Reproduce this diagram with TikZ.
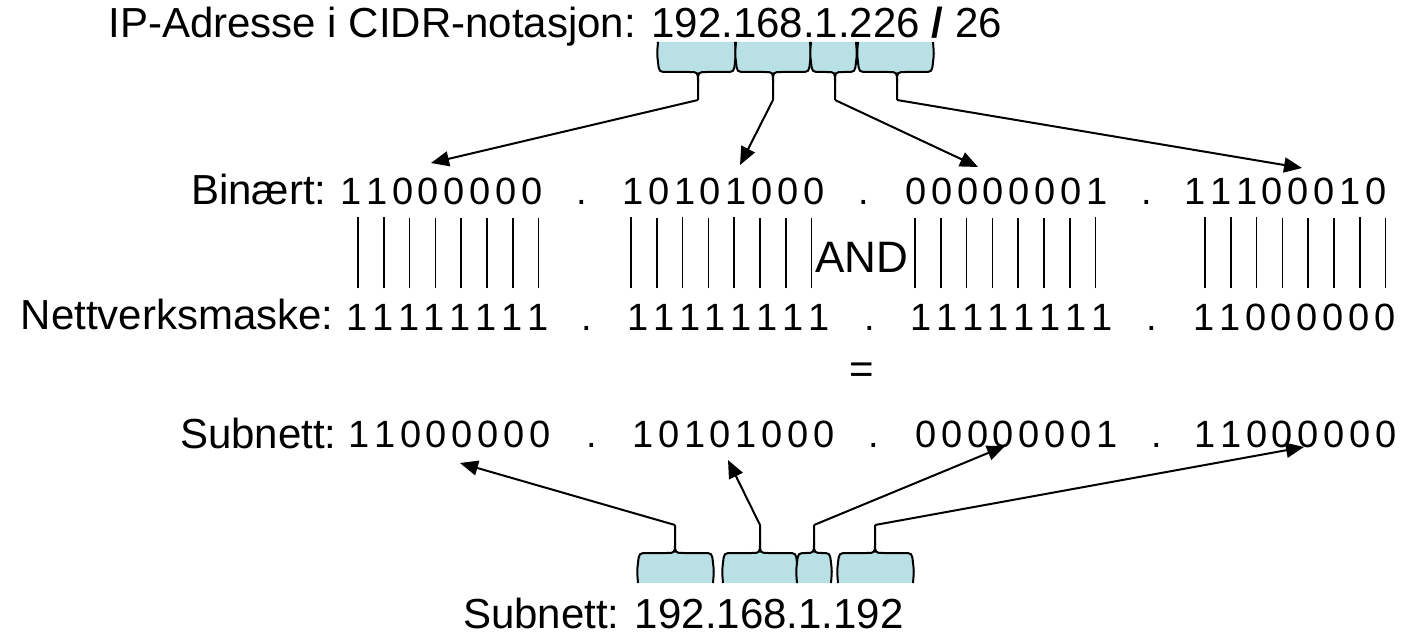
\documentclass[tikz,border=0pt]{standalone}
\usepackage{fontspec}
\setmainfont{Liberation Sans}
\usetikzlibrary{arrows.meta}
\definecolor{brblue}{HTML}{B9E0E4}
\tikzstyle{l1}=[line width=1pt]
\tikzstyle{bar}=[line width=0.8pt, shorten <=7.5pt, shorten >=6pt]
\tikzstyle{digit}=[inner sep=0pt, anchor=base, font=\fontsize{19}{23}\selectfont]
\tikzstyle{lbl}=[inner sep=0pt, font=\fontsize{21}{25}\selectfont]
\tikzstyle{pil}=[l1, -{Triangle[length=9pt,width=7.5pt]}]
% brace: left x, stem x, right x, name of stem tip
\newcommand{\ipbrace}[4]{%
  \fill[brblue] (#1,0) .. controls (#1-1,12) .. (#1,20) .. controls (#1+1,30) .. (#1+10,30) -- (#3-10,30) .. controls (#3-1,30) .. (#3,20) .. controls (#3+1,12) .. (#3,0) -- cycle;
  \draw[l1] (#1,0) .. controls (#1-1,12) .. (#1,20) .. controls (#1+1,30) .. (#1+10,30) -- (#2-9,30) .. controls (#2,30) .. (#2,40) -- (#2,58) coordinate (#4);
  \draw[l1] (#3,0) .. controls (#3+1,12) .. (#3,20) .. controls (#3-1,30) .. (#3-10,30) -- (#2+9,30) .. controls (#2,30) .. (#2,40);
}
\begin{document}
\begin{tikzpicture}[x=0.5pt, y=-0.5pt]
    \useasboundingbox (0,0) rectangle (1402,636);

    \node[lbl, anchor=base west] (title) at (108,38) {IP-Adresse i CIDR-notasjon: 192.168.1.226 \textbf{/} 26};
    \node[lbl, anchor=base east] (lbin) at (327,205) {Binært:};
    \node[lbl, anchor=base east] (lmask) at (334,329) {Nettverksmaske:};
    \node[lbl, anchor=base east] (lsub) at (337,448) {Subnett:};
    \node[lbl, anchor=base east] (res) at (904,628) {Subnett: 192.168.1.192};

    % the three rows of bits
    \foreach \g/\s/\bits in {1/351/{1,1,0,0,0,0,0,0}, 2/633/{1,0,1,0,1,0,0,0}, 3/916/{0,0,0,0,0,0,0,1}, 4/1195/{1,1,1,0,0,0,1,0}}
        \foreach \d [count=\i] in \bits
            \node[digit] (b-\g-\i) at ({\s+(\i-1)*25.8},205) {\d};
    \foreach \g/\s/\bits in {1/357/{1,1,1,1,1,1,1,1}, 2/638/{1,1,1,1,1,1,1,1}, 3/921/{1,1,1,1,1,1,1,1}, 4/1204/{1,1,0,0,0,0,0,0}}
        \foreach \d [count=\i] in \bits
            \node[digit] (m-\g-\i) at ({\s+(\i-1)*25.8},330) {\d};
    \foreach \g/\s/\bits in {1/359/{1,1,0,0,0,0,0,0}, 2/643/{1,0,1,0,1,0,0,0}, 3/926/{0,0,0,0,0,0,0,1}, 4/1205/{1,1,0,0,0,0,0,0}}
        \foreach \d [count=\i] in \bits
            \node[digit] (s-\g-\i) at ({\s+(\i-1)*25.8},447) {\d};
    \foreach \k/\xa/\xb/\xc in {1/582/587/592, 2/864/870/874, 3/1147/1152/1157} {
        \node[digit] (bd-\k) at (\xa,205) {.};
        \node[digit] (md-\k) at (\xb,330) {.};
        \node[digit] (sd-\k) at (\xc,447) {.};
    }

    % bars between the first two rows
    \foreach \g/\s in {1/358, 2/631, 3/915, 4/1205}
        \foreach \i in {1,...,8} {
            \coordinate (bx) at ({\s+(\i-1)*25.8},0);
            \draw[bar] (m-\g-\i.north -| bx) -- (b-\g-\i.south -| bx);
        }
    \node[lbl, anchor=base, font=\fontsize{22}{26}\selectfont] (and) at (861.5,272) {AND};
    \node[lbl, anchor=base] (eq) at (862,383) {=};

    % braces
    \begin{scope}[shift={(0,42)}]
        \ipbrace{658}{698}{735}{t1}
        \ipbrace{736}{773}{810}{t2}
        \ipbrace{811}{835}{856}{t3}
        \ipbrace{858}{897}{933}{t4}
    \end{scope}
    \begin{scope}[shift={(0,583)}, yscale=-1]
        \ipbrace{638}{675}{713}{u1}
        \ipbrace{723}{760}{797}{u2}
        \ipbrace{797}{814}{831}{u3}
        \ipbrace{838}{875}{913}{u4}
    \end{scope}

    \coordinate (a1) at (431,163); \coordinate (a2) at (740,165);
    \coordinate (a3) at (978,167); \coordinate (a4) at (1302,168);
    \coordinate (c1) at (460,463); \coordinate (c2) at (728,460);
    \coordinate (c3) at (1005,446); \coordinate (c4) at (1304,447);
    \draw[pil] (t1) -- (a1);
    \draw[pil] (t2) -- (a2);
    \draw[pil] (t3) -- (a3);
    \draw[pil] (t4) -- (a4);
    \draw[pil] (u1) -- (c1);
    \draw[pil] (u2) -- (c2);
    \draw[pil] (u3) -- (c3);
    \draw[pil] (u4) -- (c4);
\end{tikzpicture}
\end{document}
